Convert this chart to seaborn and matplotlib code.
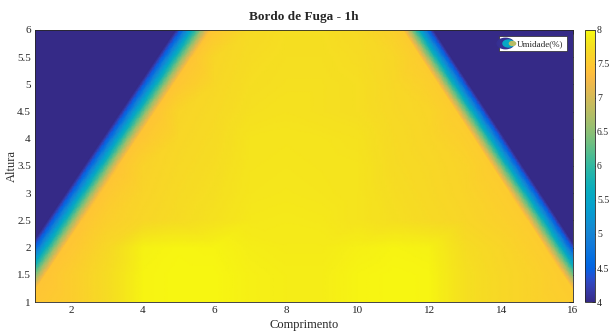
import numpy as np
import matplotlib
matplotlib.use("Agg")
import matplotlib.pyplot as plt
import matplotlib.tri as mtri
from matplotlib.colors import LinearSegmentedColormap
from matplotlib.lines import Line2D
from matplotlib.path import Path
from matplotlib.transforms import Affine2D
from matplotlib.legend_handler import HandlerTuple
from matplotlib.ticker import FormatStrFormatter
import seaborn as sns

# ---------------- data ----------------
title = "Bordo de Fuga - 1h"
x_label = "Comprimento"
y_label = "Altura"
legend_label = "Umidade(%)"

grid_x = [1, 2, 3, 4, 5, 6, 7, 8, 9, 10, 11, 12, 13, 14, 15, 16]
grid_y = [1.0, 1.5, 2.0, 2.5, 3.0, 3.5, 4.0, 4.5, 5.0, 5.5, 6.0]
N = np.nan
humidity = [
    # x: 1    2     3     4     5     6     7     8     9     10    11    12    13    14    15    16
    [N, 7.55, 7.72, 7.94, 7.96, 7.96, 7.91, 7.89, 7.89, 7.94, 7.96, 7.95, 7.76, 7.67, 7.60, N],  # y=1.0
    [N, 7.55, 7.72, 7.94, 7.96, 7.96, 7.91, 7.89, 7.89, 7.94, 7.96, 7.95, 7.76, 7.67, 7.60, N],  # y=1.5
    [N, N,    7.67, 7.92, 7.95, 7.94, 7.89, 7.87, 7.87, 7.91, 7.94, 7.92, 7.73, 7.65, N,    N],  # y=2.0
    [N, N,    7.57, 7.66, 7.72, 7.78, 7.84, 7.85, 7.84, 7.80, 7.75, 7.70, 7.65, 7.59, N,    N],  # y=2.5
    [N, N,    N,    7.63, 7.70, 7.75, 7.82, 7.83, 7.82, 7.80, 7.73, 7.68, 7.63, N,    N,    N],  # y=3.0
    [N, N,    N,    7.61, 7.68, 7.73, 7.81, 7.82, 7.81, 7.80, 7.71, 7.67, 7.62, N,    N,    N],  # y=3.5
    [N, N,    N,    N,    7.66, 7.71, 7.80, 7.81, 7.80, 7.78, 7.70, 7.65, N,    N,    N,    N],  # y=4.0
    [N, N,    N,    N,    7.64, 7.69, 7.76, 7.78, 7.76, 7.74, 7.68, 7.64, N,    N,    N,    N],  # y=4.5
    [N, N,    N,    N,    N,    7.67, 7.74, 7.76, 7.76, 7.74, 7.67, N,    N,    N,    N,    N],  # y=5.0
    [N, N,    N,    N,    N,    7.65, 7.72, 7.75, 7.75, 7.72, 7.66, N,    N,    N,    N,    N],  # y=5.5
    [N, N,    N,    N,    N,    N,    7.70, 7.74, 7.74, 7.70, N,    N,    N,    N,    N,    N],  # y=6.0
]

# edges of the wet region (inner = last wet reading, outer = background)
band_y = [0.5, 1.0, 1.5, 2.0, 2.5, 3.0, 3.5, 4.0, 4.5, 5.0, 5.5, 6.0, 6.5]
left_inner_x = [0.27, 0.78, 1.29, 1.80, 2.31, 2.82, 3.33, 3.84, 4.35, 4.86, 5.37, 5.88, 6.39]
left_outer_x = [-0.68, -0.17, 0.34, 0.85, 1.36, 1.87, 2.38, 2.89, 3.40, 3.91, 4.42, 4.93, 5.44]
right_inner_x = [16.72, 16.22, 15.72, 15.22, 14.73, 14.23, 13.73, 13.24, 12.74, 12.24, 11.74, 11.25, 10.75]
right_outer_x = [17.57, 17.07, 16.57, 16.07, 15.58, 15.08, 14.58, 14.09, 13.59, 13.09, 12.59, 12.10, 11.60]
left_edge_value = 7.45
right_edge_value = 7.53
background_value = 4.0
far_left_x = -2.0
far_right_x = 19.0

cbar_ticks = [4, 4.5, 5, 5.5, 6, 6.5, 7, 7.5, 8]
x_ticks = [2, 4, 6, 8, 10, 12, 14, 16]
y_ticks = [1, 1.5, 2, 2.5, 3, 3.5, 4, 4.5, 5, 5.5, 6]

# ---------------- colormap (parula) ----------------
parula_data = [
    [0.2081, 0.1663, 0.5292], [0.2116, 0.1898, 0.5777], [0.2123, 0.2138, 0.6270],
    [0.2081, 0.2386, 0.6771], [0.1959, 0.2645, 0.7279], [0.1707, 0.2919, 0.7792],
    [0.1253, 0.3242, 0.8303], [0.0591, 0.3598, 0.8683], [0.0117, 0.3875, 0.8820],
    [0.0060, 0.4086, 0.8828], [0.0165, 0.4266, 0.8786], [0.0329, 0.4430, 0.8720],
    [0.0498, 0.4586, 0.8641], [0.0629, 0.4737, 0.8554], [0.0723, 0.4887, 0.8467],
    [0.0779, 0.5040, 0.8384], [0.0793, 0.5200, 0.8312], [0.0749, 0.5375, 0.8263],
    [0.0641, 0.5570, 0.8240], [0.0488, 0.5772, 0.8228], [0.0343, 0.5966, 0.8199],
    [0.0265, 0.6137, 0.8135], [0.0239, 0.6287, 0.8038], [0.0231, 0.6418, 0.7913],
    [0.0228, 0.6535, 0.7768], [0.0267, 0.6642, 0.7607], [0.0384, 0.6743, 0.7436],
    [0.0590, 0.6838, 0.7254], [0.0843, 0.6928, 0.7062], [0.1133, 0.7015, 0.6859],
    [0.1453, 0.7098, 0.6646], [0.1801, 0.7177, 0.6424], [0.2178, 0.7250, 0.6193],
    [0.2586, 0.7317, 0.5954], [0.3022, 0.7376, 0.5712], [0.3482, 0.7424, 0.5473],
    [0.3953, 0.7459, 0.5244], [0.4420, 0.7481, 0.5033], [0.4871, 0.7491, 0.4840],
    [0.5300, 0.7491, 0.4661], [0.5709, 0.7485, 0.4494], [0.6099, 0.7473, 0.4337],
    [0.6473, 0.7456, 0.4188], [0.6834, 0.7435, 0.4044], [0.7184, 0.7411, 0.3905],
    [0.7525, 0.7384, 0.3768], [0.7858, 0.7356, 0.3633], [0.8185, 0.7327, 0.3498],
    [0.8507, 0.7299, 0.3360], [0.8824, 0.7274, 0.3217], [0.9139, 0.7258, 0.3063],
    [0.9450, 0.7261, 0.2886], [0.9739, 0.7314, 0.2666], [0.9938, 0.7455, 0.2403],
    [0.9990, 0.7653, 0.2164], [0.9955, 0.7861, 0.1967], [0.9880, 0.8066, 0.1794],
    [0.9789, 0.8271, 0.1633], [0.9697, 0.8481, 0.1475], [0.9626, 0.8705, 0.1309],
    [0.9589, 0.8949, 0.1132], [0.9598, 0.9218, 0.0948], [0.9661, 0.9514, 0.0755],
    [0.9763, 0.9831, 0.0538],
]
parula = LinearSegmentedColormap.from_list("parula", parula_data, N=512)

# ---------------- style ----------------
sns.set_style("white")
plt.rcParams["font.family"] = ["Liberation Serif", "DejaVu Serif"]
plt.rcParams["xtick.direction"] = "in"
plt.rcParams["ytick.direction"] = "in"

# ---------------- assemble points ----------------
px, py, pz = [], [], []
for j, yv in enumerate(grid_y):
    for i, xv in enumerate(grid_x):
        v = humidity[j][i]
        if not np.isnan(v):
            px.append(xv); py.append(yv); pz.append(v)
for k, yv in enumerate(band_y):
    px += [left_inner_x[k], left_outer_x[k], far_left_x,
           right_inner_x[k], right_outer_x[k], far_right_x]
    py += [yv] * 6
    pz += [left_edge_value, background_value, background_value,
           right_edge_value, background_value, background_value]
px = np.array(px); py = np.array(py); pz = np.array(pz)
tri = mtri.Triangulation(px, py)
# refine linearly so colours follow the value scale (not RGB blending)
refiner = mtri.UniformTriRefiner(tri)
tri_f, z_f = refiner.refine_field(pz, triinterpolator=mtri.LinearTriInterpolator(tri, pz),
                                  subdiv=4)

# ---------------- figure ----------------
fig = plt.figure(figsize=(6.1, 3.35), dpi=100)
ax = fig.add_axes([0.0574, 0.0985, 0.8820, 0.8120])
cax = fig.add_axes([0.9590, 0.0985, 0.0164, 0.8120])

tpc = ax.tripcolor(tri_f, z_f, shading="gouraud", cmap=parula, vmin=4, vmax=8)

ax.set_xlim(1, 16)
ax.set_ylim(1, 6)
ax.set_xticks(x_ticks)
ax.set_yticks(y_ticks)
ax.yaxis.set_major_formatter(FormatStrFormatter("%g"))
ax.tick_params(axis="both", labelsize=8, colors="#262626", length=3, width=0.6,
               top=True, right=True, pad=3)
for s in ax.spines.values():
    s.set_color("#262626")
    s.set_linewidth(0.6)

ax.set_title(title, fontsize=9.5, fontweight="bold", pad=7)
ax.set_xlabel(x_label, fontsize=9, labelpad=3, color="#262626")
ax.set_ylabel(y_label, fontsize=9, labelpad=-1, color="#262626")

cb = fig.colorbar(tpc, cax=cax, ticks=cbar_ticks)
cb.ax.yaxis.set_major_formatter(FormatStrFormatter("%g"))
cb.ax.tick_params(labelsize=7, colors="#262626", length=2.5, width=0.6,
                  direction="in", pad=1.5)
cb.outline.set_linewidth(0.6)
cb.outline.set_edgecolor("#262626")

# legend with a contour-like elliptical icon
ell = Path.unit_circle().transformed(Affine2D().scale(1.6, 1.0))
h_outer = Line2D([], [], linestyle="none", marker=ell, markersize=12,
                 markerfacecolor=parula_data[1], markeredgecolor=parula_data[1])
h_mid = Line2D([], [], linestyle="none", marker=ell, markersize=8,
               markerfacecolor=parula_data[24], markeredgecolor=parula_data[24])
h_in = Line2D([], [], linestyle="none", marker=ell, markersize=4.5,
              markerfacecolor=parula_data[44], markeredgecolor=parula_data[44])
leg = ax.legend([(h_outer, h_mid, h_in)], [legend_label],
                handler_map={tuple: HandlerTuple(ndivide=None, pad=0)},
                loc="upper right", fontsize=6.5, frameon=True, fancybox=False,
                handlelength=1.3, handletextpad=0.3, borderpad=0.35,
                borderaxespad=0.7)
leg.get_frame().set_edgecolor("#262626")
leg.get_frame().set_linewidth(0.5)
leg.get_frame().set_facecolor("white")
leg.get_frame().set_alpha(1)

fig.savefig("out.png", dpi=100)
